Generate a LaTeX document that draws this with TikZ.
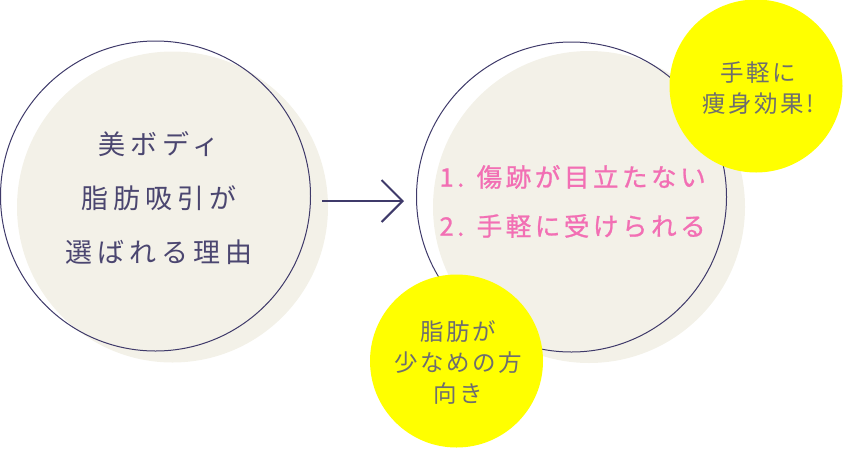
\documentclass[tikz,border=0pt]{standalone}
\usepackage{fontspec}
\setmainfont{Noto Sans CJK JP}
\newfontfamily\jpmain[LetterSpace=19]{Noto Sans CJK JP}
\newfontfamily\jppink[LetterSpace=14,FakeBold=1]{Noto Sans CJK JP}
\newfontfamily\jpnote[LetterSpace=11]{Noto Sans CJK JP}
\definecolor{navyline}{HTML}{3F3A6A}
\definecolor{navytext}{HTML}{4B4670}
\definecolor{beige}{HTML}{F3F1E8}
\definecolor{pinktext}{HTML}{F26FB4}
\definecolor{greytext}{HTML}{6E6E6E}
\definecolor{note}{HTML}{FFFF00}
\usetikzlibrary{arrows.meta}
\begin{document}
\begin{tikzpicture}[x=1pt,y=-1pt,
  ring/.style={draw=navyline,line width=1pt},
  pad/.style={fill=beige},
  bubble/.style={fill=note},
  notetext/.style={text=greytext,align=center,font=\jpnote\fontsize{23.5}{31}\selectfont}]
\useasboundingbox (0,0) rectangle (843,448);

% Offset beige discs behind the two outlines.
\fill[pad] (172.5,207) circle (155.5);
\fill[pad] (589,207) circle (156);
\draw[ring] (155.5,196) circle (155);
\draw[ring] (571.5,197) circle (155);

% Yellow note bubbles sit over the right outline.
\fill[bubble] (756,86) circle (86.5);
\fill[bubble] (456.5,361) circle (86.5);

% Left disc heading.
\node[text=navytext,align=center,font=\jpmain\fontsize{27}{54}\selectfont] (reason) at (159,198)
  {美ボディ\\脂肪吸引が\\選ばれる理由};

% Connector between the discs.
\coordinate (arrowtail) at (322,201);
\coordinate (arrowtip) at (404,201);
\draw[navyline,line width=2pt,-{Straight Barb[length=21pt,width=42pt]}] (arrowtail) -- (arrowtip);

% Right disc points.
\node[text=pinktext,anchor=west,font=\jppink\fontsize{25.5}{25.5}\selectfont] (pointone) at (436,177) {1. 傷跡が目立たない};
\node[text=pinktext,anchor=west,font=\jppink\fontsize{25.5}{25.5}\selectfont] (pointtwo) at (436,226) {2. 手軽に受けられる};

% Bubble notes.
\node[notetext] (slim) at (758,88) {手軽に\\痩身効果!};
\node[notetext] (fewfat) at (458,362) {脂肪が\\少なめの方\\向き};
\end{tikzpicture}
\end{document}
